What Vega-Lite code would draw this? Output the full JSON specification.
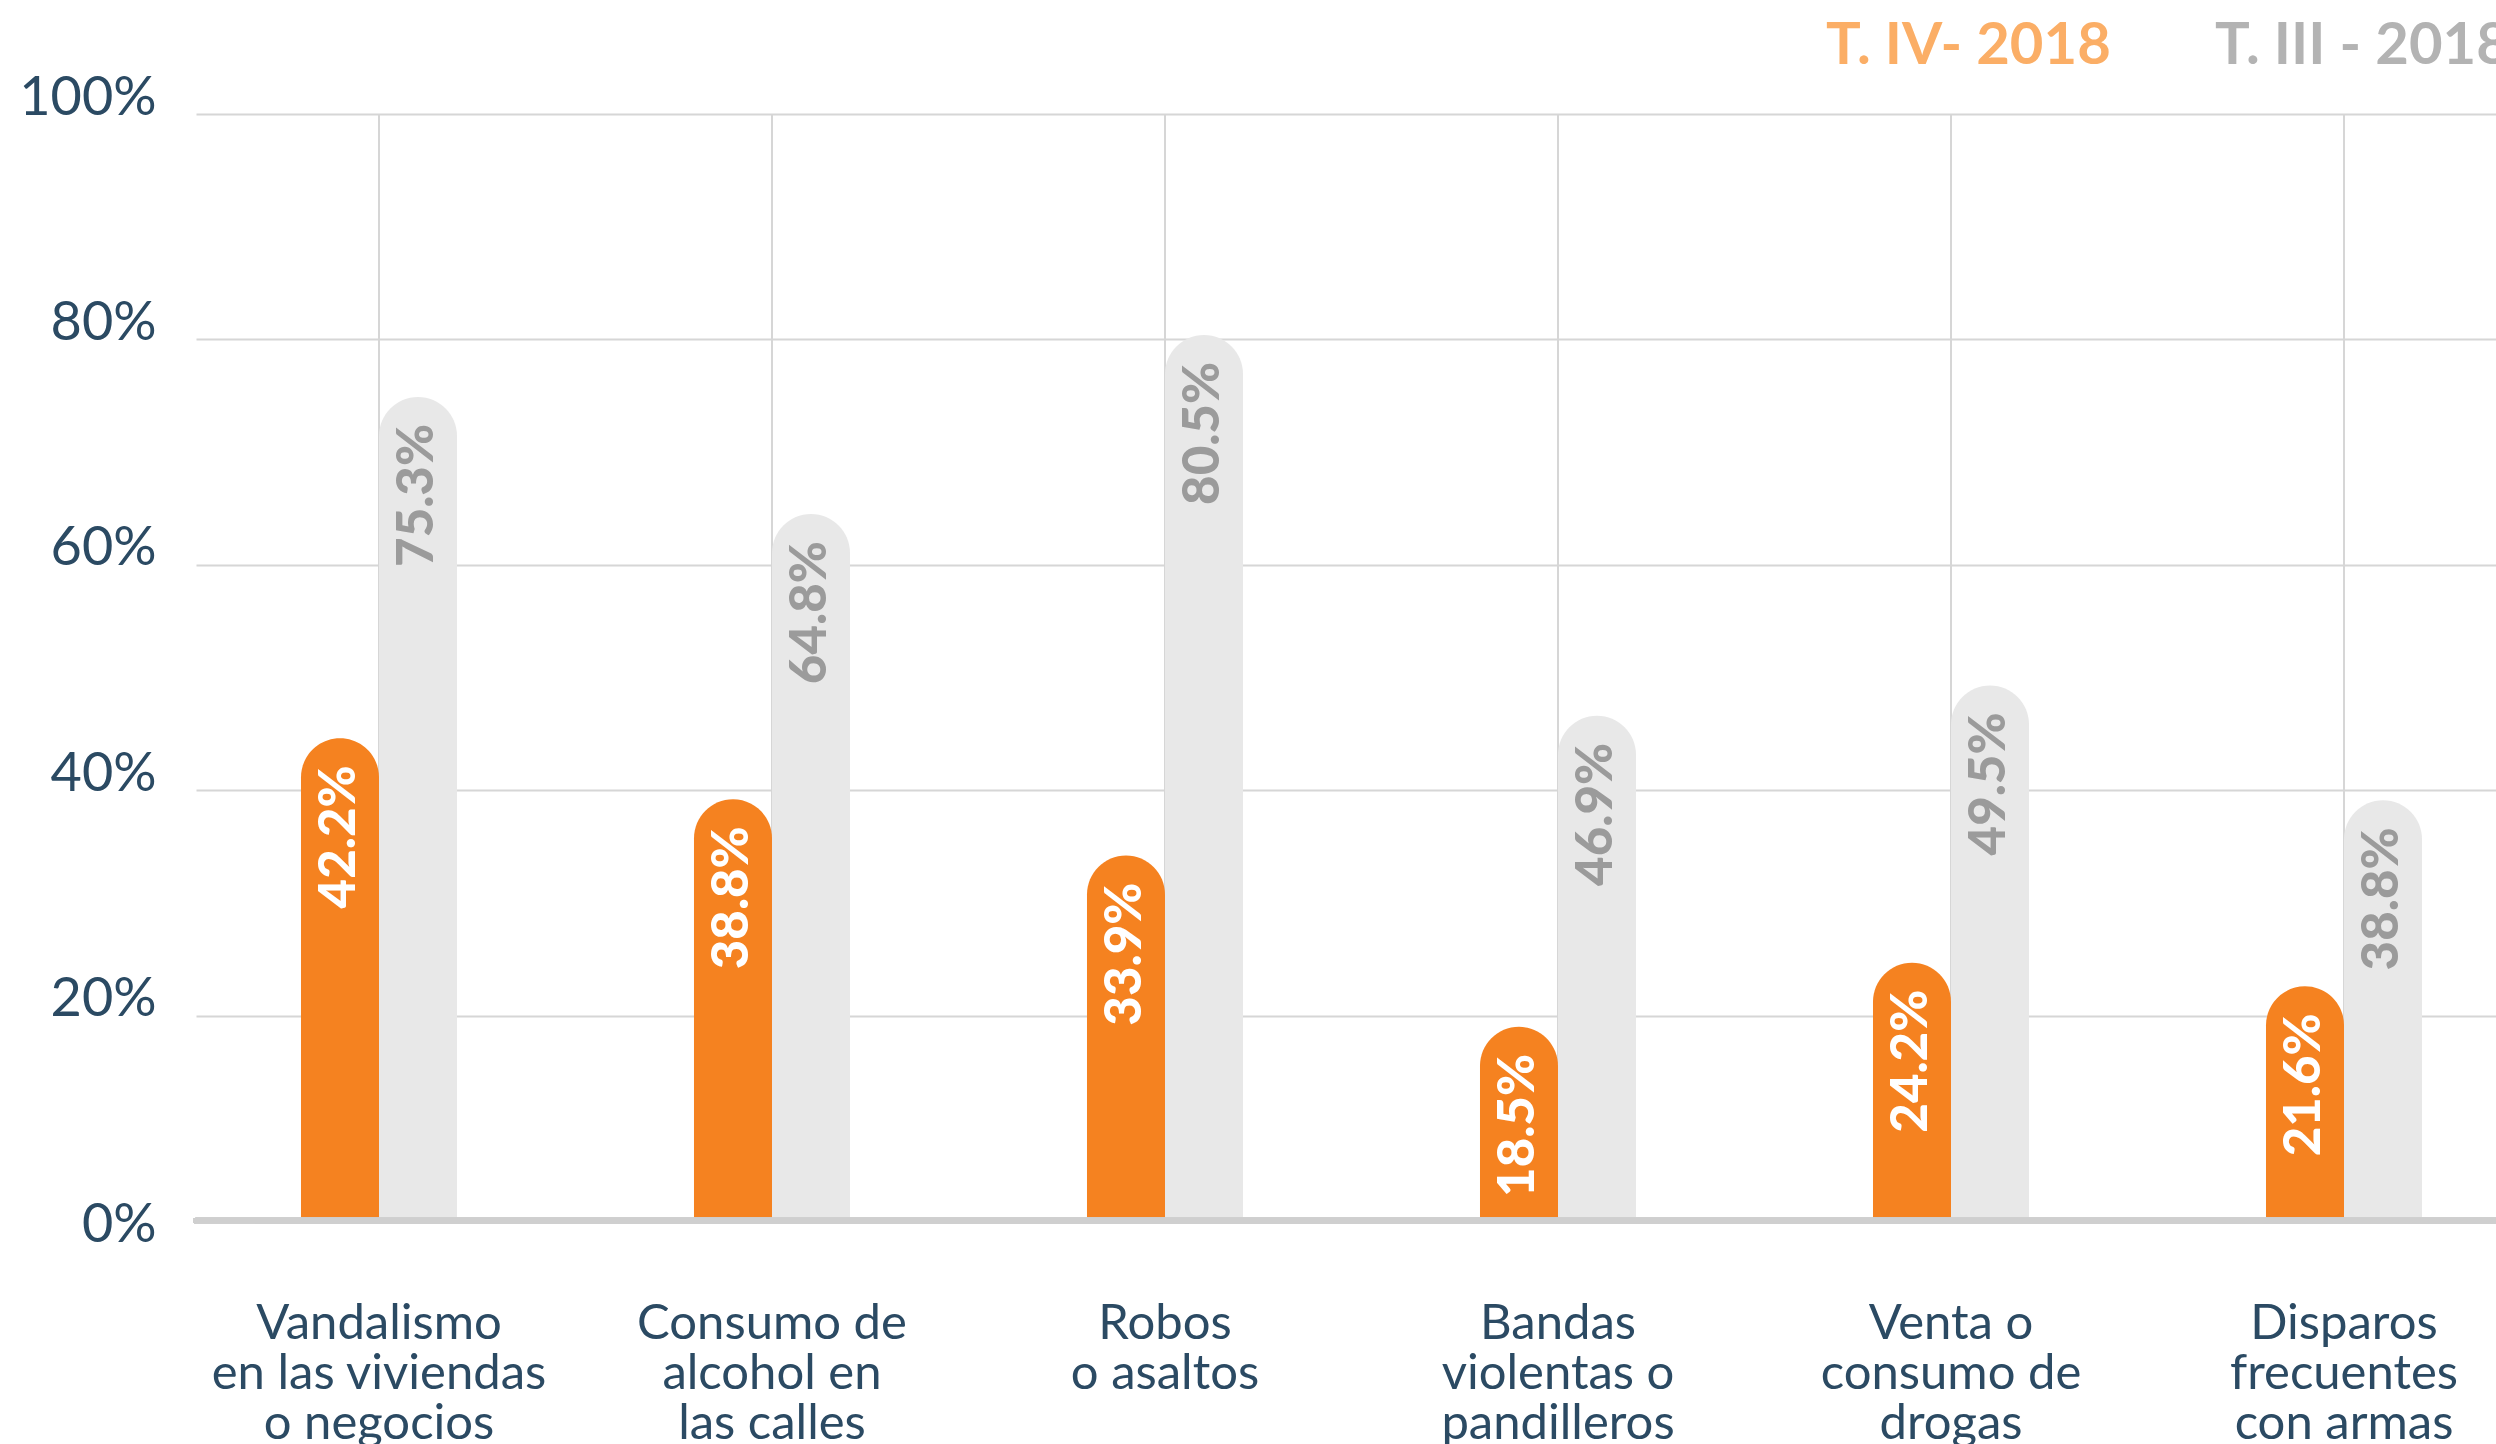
{
  "$schema": "https://vega.github.io/schema/vega-lite/v6.json",
  "autosize": {"type": "none"},
  "padding": {"left": 196, "top": 114, "right": 0, "bottom": 203},
  "width": 2300,
  "height": 1127,
  "background": "white",
  "config": {
    "font": "Lato",
    "view": {"stroke": null},
    "axis": {"ticks": false, "tickSize": 0, "tickWidth": 0, "domain": false}
  },
  "data": {
    "values": [
      {"cat": "Vandalismo|en las viviendas|o negocios", "period": "T. IV- 2018", "bar": 44.6, "label": "42.2%"},
      {"cat": "Vandalismo|en las viviendas|o negocios", "period": "T. III - 2018", "bar": 74.9, "label": "75.3%"},
      {"cat": "Consumo de|alcohol en|las calles", "period": "T. IV- 2018", "bar": 39.2, "label": "38.8%"},
      {"cat": "Consumo de|alcohol en|las calles", "period": "T. III - 2018", "bar": 64.5, "label": "64.8%"},
      {"cat": "Robos|o asaltos", "period": "T. IV- 2018", "bar": 34.2, "label": "33.9%"},
      {"cat": "Robos|o asaltos", "period": "T. III - 2018", "bar": 80.4, "label": "80.5%"},
      {"cat": "Bandas|violentas o|pandilleros", "period": "T. IV- 2018", "bar": 19.0, "label": "18.5%"},
      {"cat": "Bandas|violentas o|pandilleros", "period": "T. III - 2018", "bar": 46.6, "label": "46.9%"},
      {"cat": "Venta o|consumo de|drogas", "period": "T. IV- 2018", "bar": 24.7, "label": "24.2%"},
      {"cat": "Venta o|consumo de|drogas", "period": "T. III - 2018", "bar": 49.3, "label": "49.5%"},
      {"cat": "Disparos|frecuentes|con armas", "period": "T. IV- 2018", "bar": 22.6, "label": "21.6%"},
      {"cat": "Disparos|frecuentes|con armas", "period": "T. III - 2018", "bar": 39.1, "label": "38.8%"}
    ]
  },
  "layer": [
    {
      "mark": {"type": "rule", "color": "#D6D6D6", "strokeWidth": 2},
      "encoding": {
        "x": {
          "field": "cat",
          "type": "nominal",
          "sort": null,
          "scale": {"paddingInner": 0.603, "paddingOuter": 0.2277, "align": 0.5866},
          "axis": {
            "title": null,
            "labelAngle": 0,
            "labelExpr": "split(datum.label, '|')",
            "labelFont": "Lato",
            "labelFontSize": 49,
            "labelLineHeight": 50,
            "labelColor": "#2B4A63",
            "labelPadding": 58,
            "labelLimit": 0,
            "domain": false,
            "ticks": false,
            "grid": false
          }
        },
        "y": {
          "datum": 1.8,
          "type": "quantitative",
          "scale": {"domain": [0, 100], "nice": false, "zero": true},
          "axis": {
            "title": null,
            "values": [0, 20, 40, 60, 80, 100],
            "labelExpr": "datum.value + '%'",
            "labelFont": "Lato",
            "labelFontSize": 54,
            "labelColor": "#2B4A63",
            "labelBaseline": "alphabetic",
            "labelPadding": 40,
            "domain": false,
            "ticks": false,
            "grid": true,
            "gridColor": "#D6D6D6",
            "gridWidth": 2,
            "gridOpacity": {"condition": {"test": "datum.value === 0", "value": 0}, "value": 1}
          }
        },
        "y2": {"datum": 100}
      }
    },
    {
      "mark": {"type": "bar", "cornerRadiusTopLeft": 39, "cornerRadiusTopRight": 39},
      "encoding": {
        "x": {"field": "cat", "type": "nominal", "sort": null},
        "xOffset": {
          "field": "period",
          "type": "nominal",
          "scale": {"domain": ["T. IV- 2018", "T. III - 2018"], "paddingInner": 0, "paddingOuter": 0}
        },
        "y": {"field": "bar", "type": "quantitative"},
        "y2": {"datum": 1.8},
        "color": {
          "field": "period",
          "type": "nominal",
          "scale": {"domain": ["T. IV- 2018", "T. III - 2018"], "range": ["#F58220", "#E8E8E8"]},
          "legend": {
            "orient": "none",
            "legendX": 1572,
            "legendY": -125,
            "direction": "horizontal",
            "title": null,
            "padding": 0,
            "symbolSize": 0,
            "symbolOpacity": 0,
            "symbolStrokeWidth": 0,
            "labelOffset": 0,
            "columnPadding": 46,
            "labelFont": "Lato",
            "labelFontSize": 58,
            "labelFontWeight": "bold",
            "labelBaseline": "top",
            "labelLimit": 0,
            "encode": {
              "labels": {
                "update": {
                  "fill": {"signal": "datum.value === 'T. IV- 2018' ? '#FBAE66' : '#B3B3B3'"}
                }
              }
            }
          }
        }
      }
    },
    {
      "mark": {"type": "rule", "color": "#CFCFCF", "strokeWidth": 6, "strokeCap": "round"},
      "encoding": {"y": {"datum": 1.8}}
    },
    {
      "mark": {"type": "text", "angle": 270, "align": "right", "baseline": "middle", "dx": -27, "font": "Lato", "fontSize": 51, "fontWeight": 900},
      "encoding": {
        "x": {"field": "cat", "type": "nominal", "sort": null},
        "xOffset": {"field": "period", "type": "nominal"},
        "y": {"field": "bar", "type": "quantitative"},
        "text": {"field": "label"},
        "color": {"condition": {"test": "datum.period === 'T. IV- 2018'", "value": "#FFFFFF"}, "value": "#9B9B9B"}
      }
    }
  ]
}
